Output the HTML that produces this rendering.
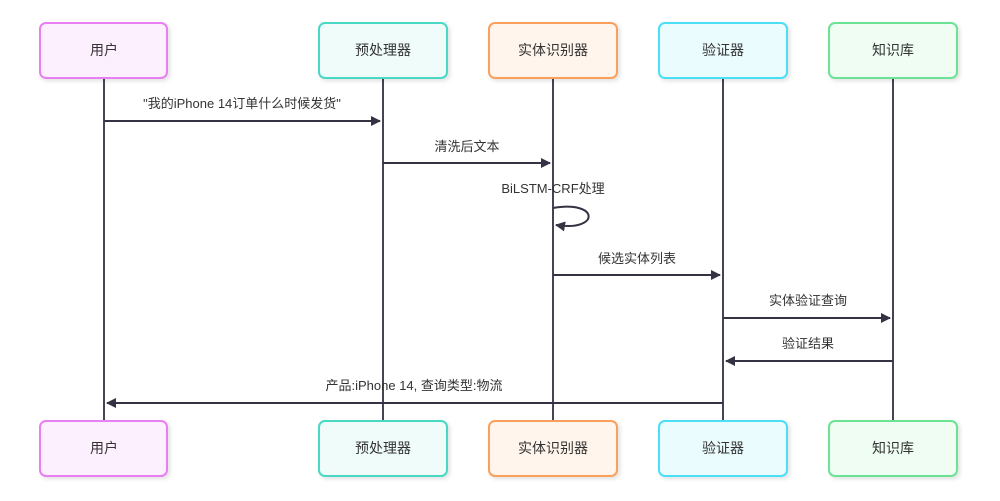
<!DOCTYPE html>
<html><head><meta charset="utf-8"><style>
body{margin:0;background:#fff;}
svg{display:block;font-family:"Liberation Sans","Noto Sans CJK SC",sans-serif;}
</style></head><body>
<svg width="1000" height="501" viewBox="0 0 1000 501">
<defs>
<marker id="a" markerWidth="10" markerHeight="10" refX="9" refY="5" orient="auto" markerUnits="userSpaceOnUse"><path d="M0,0 L10,5 L0,10 z" fill="#333344"/></marker>
<filter id="s" x="-10%" y="-10%" width="130%" height="140%"><feDropShadow dx="2" dy="2" stdDeviation="2" flood-color="#000" flood-opacity="0.12"/></filter>
</defs>
<g stroke="#444455" stroke-width="2">
<line x1="104" y1="78" x2="104" y2="421"/>
<line x1="383" y1="78" x2="383" y2="421"/>
<line x1="553" y1="78" x2="553" y2="421"/>
<line x1="723" y1="78" x2="723" y2="421"/>
<line x1="893" y1="78" x2="893" y2="421"/>
</g>
<g stroke-width="2" filter="url(#s)">
<rect x="40" y="23" width="127" height="55" rx="6" fill="#fdf0fe" stroke="#e87ff0"/>
<rect x="319" y="23" width="128" height="55" rx="6" fill="#effcfa" stroke="#4ad8c4"/>
<rect x="489" y="23" width="128" height="55" rx="6" fill="#fff5ec" stroke="#fba05c"/>
<rect x="659" y="23" width="128" height="55" rx="6" fill="#ebfcff" stroke="#4bdff5"/>
<rect x="829" y="23" width="128" height="55" rx="6" fill="#effdf3" stroke="#6ce394"/>
<rect x="40" y="421" width="127" height="55" rx="6" fill="#fdf0fe" stroke="#e87ff0"/>
<rect x="319" y="421" width="128" height="55" rx="6" fill="#effcfa" stroke="#4ad8c4"/>
<rect x="489" y="421" width="128" height="55" rx="6" fill="#fff5ec" stroke="#fba05c"/>
<rect x="659" y="421" width="128" height="55" rx="6" fill="#ebfcff" stroke="#4bdff5"/>
<rect x="829" y="421" width="128" height="55" rx="6" fill="#effdf3" stroke="#6ce394"/>
</g>
<g font-size="14" fill="#333" text-anchor="middle">
<text x="104" y="55">用户</text><text x="383" y="55">预处理器</text><text x="553" y="55">实体识别器</text><text x="723" y="55">验证器</text><text x="893" y="55">知识库</text>
<text x="104" y="453">用户</text><text x="383" y="453">预处理器</text><text x="553" y="453">实体识别器</text><text x="723" y="453">验证器</text><text x="893" y="453">知识库</text>
</g>
<g stroke="#333344" stroke-width="2" fill="none">
<line x1="104" y1="121" x2="380" y2="121" marker-end="url(#a)"/>
<line x1="383" y1="163" x2="550" y2="163" marker-end="url(#a)"/>
<path d="M553,208 C600,200 600,232 556,225" marker-end="url(#a)"/>
<line x1="553" y1="275" x2="720" y2="275" marker-end="url(#a)"/>
<line x1="723" y1="318" x2="890" y2="318" marker-end="url(#a)"/>
<line x1="893" y1="361" x2="726" y2="361" marker-end="url(#a)"/>
<line x1="723" y1="403" x2="107" y2="403" marker-end="url(#a)"/>
</g>
<g font-size="13" fill="#333" text-anchor="middle">
<text x="242" y="108">"我的iPhone 14订单什么时候发货"</text>
<text x="467" y="151">清洗后文本</text>
<text x="553" y="193">BiLSTM-CRF处理</text>
<text x="637" y="263">候选实体列表</text>
<text x="808" y="305">实体验证查询</text>
<text x="808" y="348">验证结果</text>
<text x="414" y="390">产品:iPhone 14, 查询类型:物流</text>
</g>
</svg>
</body></html>
